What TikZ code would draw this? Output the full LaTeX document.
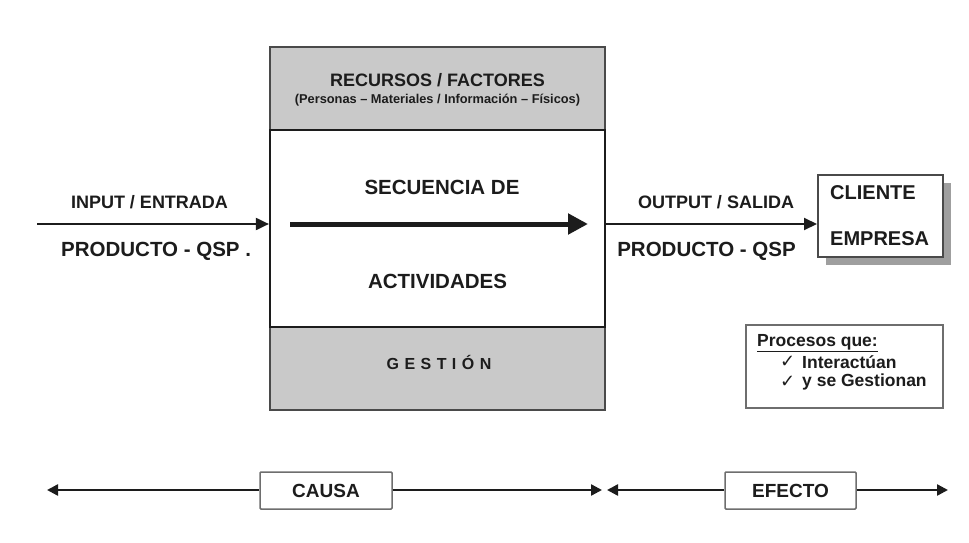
\documentclass[tikz,border=0pt]{standalone}
\usepackage{fontspec}
\setmainfont{Liberation Sans}
\newfontfamily\symfont{DejaVu Sans}
\usetikzlibrary{arrows.meta,shadows}

\definecolor{panelgrey}{HTML}{C9C9C9}
\definecolor{edgegrey}{HTML}{4A4A4A}
\definecolor{inkdark}{HTML}{1C1C1C}

\tikzset{
  fs/.style={font=\fontsize{#1}{#1}\selectfont\bfseries},
  lbl/.style={inner sep=0pt, text=inkdark},
  panel/.style={draw=edgegrey, line width=1.8pt, fill=panelgrey, inner sep=0pt},
  stage/.style={draw=inkdark, line width=2.2pt, fill=white, inner sep=0pt},
  flow/.style={draw=inkdark, line width=2pt, -{Triangle[length=13pt,width=12pt]}},
  tagbox/.style={draw=edgegrey!80, line width=1.5pt, fill=white, inner sep=0pt,
    minimum height=37pt, rounded corners=1pt},
  span/.style={draw=inkdark, line width=2.4pt},
  tipR/.style={-{Triangle[length=11pt,width=11pt]}},
  tipL/.style={{Triangle[length=11pt,width=11pt]}-},
  checkmk/.style={inner sep=0pt, text=inkdark, font=\fontsize{18}{18}\selectfont\symfont},
}

\begin{document}
\begin{tikzpicture}[x=1pt, y=-1pt]
  \useasboundingbox[fill=white] (0,0) rectangle (969,543);

  % central process block: resources on top, management below
  \node[panel, minimum width=335pt, minimum height=363pt] (outer) at (437.5,228.5) {};
  \node[stage, minimum width=335pt, minimum height=197pt] (inner) at (437.5,228.5) {};

  \node[lbl, fs=18] (rec) at (437.5,80) {RECURSOS / FACTORES};
  \node[lbl, fs=12.8] (recsub) at (437.5,100) {(Personas – Materiales / Información – Físicos)};
  \node[lbl, font={\fontsize{16}{16}\selectfont\bfseries\addfontfeature{LetterSpace=34}}]
        (gest) at (439,362) {GESTIÓN};

  % sequence of activities
  \node[lbl, fs=20.5] (seq1) at (442,187) {SECUENCIA DE};
  \node[lbl, fs=20.5] (seq2) at (437.5,281) {ACTIVIDADES};
  \coordinate (seqA) at (290,224);
  \coordinate (seqB) at (588,224);
  \draw[draw=inkdark, line width=5pt, -{Triangle[length=20pt,width=20pt]}] (seqA) -- (seqB);

  % input side
  \coordinate (inStart) at (37,224);
  \draw[flow] (inStart) -- (inStart -| inner.west);
  \node[lbl, fs=18] (inTop) at (149.5,202) {INPUT / ENTRADA};
  \node[lbl, fs=20.5, anchor=west] (inBot) at (61,251) {PRODUCTO - QSP .};

  % output side and customer
  \node[draw=edgegrey, line width=2pt, fill=white, inner sep=0pt,
        minimum width=125pt, minimum height=82pt,
        drop shadow={shadow xshift=8pt, shadow yshift=-8pt, fill=gray!75, opacity=1}]
        (client) at (880.5,216) {};
  \node[lbl, fs=20, anchor=west] (cl1) at (830,193) {CLIENTE};
  \node[lbl, fs=20, anchor=west] (cl2) at (830,239) {EMPRESA};
  \coordinate (outY) at (605,224);
  \draw[flow] (inner.east |- outY) -- (client.west |- outY);
  \node[lbl, fs=18] (outTop) at (716,202) {OUTPUT / SALIDA};
  \node[lbl, fs=20.5] (outBot) at (706.5,251) {PRODUCTO - QSP};

  % note box
  \node[draw=edgegrey!80, line width=1.5pt, fill=white, inner sep=0pt,
        minimum width=197pt, minimum height=83pt] (note) at (844.5,366.5) {};
  \node[lbl, fs=17.5, anchor=west] (n0) at (757,343) {\underline{Procesos que:}};
  \node[checkmk, anchor=west] (c1) at (780,362) {✓};
  \node[lbl, fs=17.5, anchor=west] (n1) at (802,362) {Interactúan};
  \node[checkmk, anchor=west] (c2) at (780,382) {✓};
  \node[lbl, fs=17.5, anchor=west] (n2) at (802,382) {y se Gestionan};

  % cause / effect axis
  \node[tagbox, minimum width=132pt] (causa) at (326,490.5) {};
  \node[lbl, fs=19] at (causa.center) {CAUSA};
  \node[tagbox, minimum width=131pt] (efecto) at (790.5,490.5) {};
  \node[lbl, fs=19] at (efecto.center) {EFECTO};
  \coordinate (L1) at (47,490);
  \coordinate (R1) at (602,490);
  \coordinate (L2) at (607,490);
  \coordinate (R2) at (948,490);
  \draw[span, tipL] (L1) -- (causa.west |- L1);
  \draw[span, tipR] (causa.east |- R1) -- (R1);
  \draw[span, tipL] (L2) -- (efecto.west |- L2);
  \draw[span, tipR] (efecto.east |- R2) -- (R2);
\end{tikzpicture}
\end{document}
